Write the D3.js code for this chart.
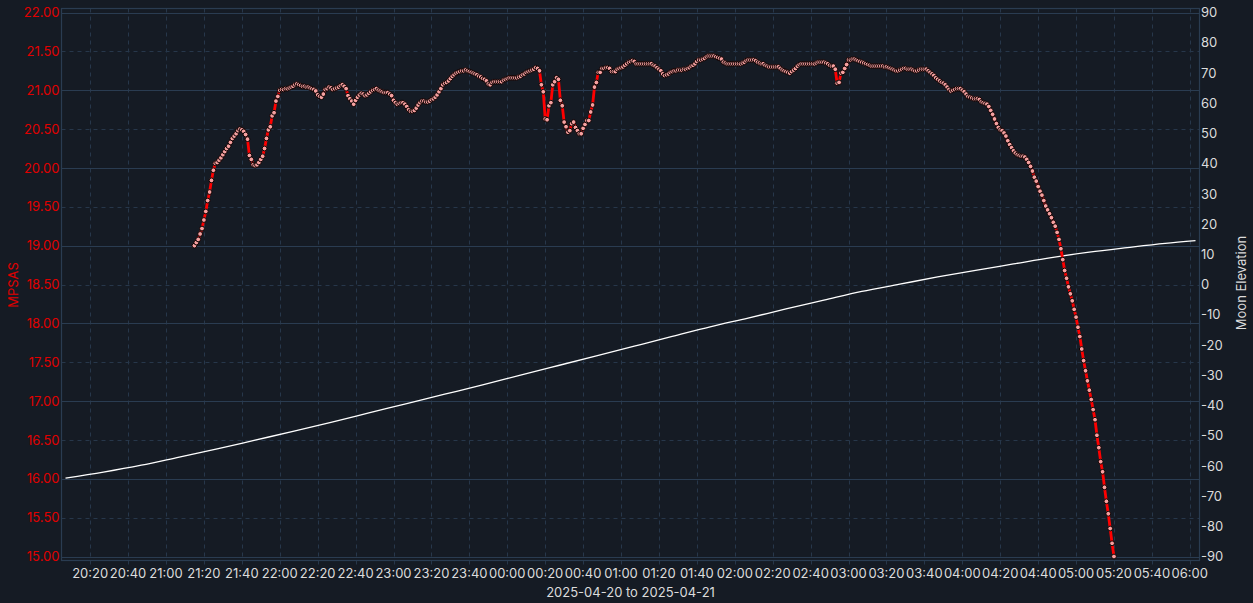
<!DOCTYPE html>
<html><head><meta charset="utf-8">
<script src="https://cdn.jsdelivr.net/npm/d3@7"></script>
<style>
html,body{margin:0;padding:0;background:#151b24;}
svg{display:block;}
text{font-family:Inter, "Noto Sans", sans-serif;}
</style></head><body>
<svg id="c" width="1253" height="603"></svg>
<script>
// ---- data ----
const seriesStart = "21:15";           // first MPSAS sample (2025-04-20), one sample per minute
const mpsas2100 = [19.00,19.04,19.08,19.15,19.22,19.33,19.44,19.58,19.69,19.84,
  19.97,20.06,20.07,20.10,20.13,20.17,20.21,20.25,20.28,20.33,
  20.38,20.41,20.44,20.48,20.50,20.49,20.47,20.43,20.37,20.16,
  20.11,20.04,20.03,20.04,20.07,20.11,20.15,20.25,20.38,20.49,
  20.53,20.67,20.71,20.86,20.92];
const mpsas2200 = [21.00,21.01,21.01,21.02,21.02,21.03,21.04,21.05,21.07,21.08,
  21.07,21.06,21.05,21.05,21.04,21.04,21.03,21.02,21.01,20.99,
  20.94,20.92,20.91,20.95,21.01,21.02,21.04,21.03,21.01,21.02,
  21.03,21.04,21.06,21.07,21.05,21.02,20.93,20.89,20.86,20.82,
  20.87,20.91,20.94,20.96,20.95,20.93,20.94,20.96,20.98,21.00,
  21.01,21.02,21.00,20.99,20.98,20.97,20.97,20.97,20.95,20.93];
const mpsas2300 = [20.87,20.84,20.82,20.83,20.84,20.84,20.82,20.79,20.75,20.73,
  20.73,20.74,20.77,20.81,20.84,20.86,20.86,20.85,20.85,20.86,
  20.88,20.89,20.91,20.94,20.98,21.02,21.07,21.09,21.10,21.12,
  21.15,21.18,21.20,21.22,21.23,21.24,21.25,21.25,21.26,21.25,
  21.24,21.23,21.22,21.21,21.20,21.18,21.17,21.15,21.14,21.12,
  21.08,21.07,21.10,21.11,21.11,21.11,21.11,21.11,21.13,21.14];
const mpsas0000 = [21.15,21.16,21.16,21.16,21.16,21.16,21.17,21.18,21.20,21.21,
  21.23,21.24,21.25,21.26,21.27,21.29,21.28,21.25,21.07,20.98,
  20.63,20.62,20.80,20.84,21.07,21.11,21.16,21.14,20.87,20.80,
  20.59,20.53,20.46,20.48,20.57,20.59,20.52,20.48,20.44,20.44,
  20.51,20.56,20.61,20.61,20.72,20.81,21.04,21.10,21.23,21.23,
  21.28,21.28,21.29,21.29,21.28,21.24,21.24,21.24,21.27,21.28];
const mpsas0100 = [21.29,21.30,21.32,21.34,21.36,21.37,21.38,21.37,21.34,21.34,
  21.34,21.34,21.34,21.34,21.34,21.34,21.34,21.32,21.31,21.29,
  21.27,21.25,21.21,21.19,21.20,21.21,21.23,21.24,21.25,21.25,
  21.26,21.26,21.26,21.27,21.27,21.28,21.29,21.31,21.32,21.34,
  21.37,21.39,21.39,21.40,21.41,21.43,21.44,21.44,21.44,21.44,
  21.43,21.42,21.41,21.40,21.36,21.35,21.34,21.34,21.34,21.34];
const mpsas0200 = [21.34,21.34,21.34,21.34,21.35,21.36,21.38,21.39,21.39,21.39,
  21.39,21.38,21.36,21.35,21.34,21.34,21.32,21.31,21.30,21.30,
  21.30,21.30,21.30,21.30,21.28,21.26,21.25,21.24,21.23,21.22,
  21.24,21.26,21.28,21.31,21.33,21.34,21.34,21.34,21.34,21.34,
  21.34,21.34,21.34,21.35,21.36,21.36,21.36,21.36,21.35,21.34,
  21.32,21.31,21.31,21.27,21.09,21.10,21.22,21.23,21.28,21.33];
const mpsas0300 = [21.39,21.39,21.40,21.40,21.39,21.38,21.37,21.36,21.35,21.34,
  21.33,21.32,21.31,21.31,21.31,21.31,21.31,21.31,21.31,21.30,
  21.30,21.29,21.28,21.27,21.26,21.25,21.25,21.26,21.27,21.28,
  21.28,21.27,21.27,21.27,21.26,21.25,21.25,21.26,21.27,21.27,
  21.27,21.27,21.25,21.23,21.21,21.19,21.16,21.14,21.12,21.10,
  21.09,21.07,21.04,21.01,20.99,21.00,21.01,21.02,21.02,21.02];
const mpsas0400 = [21.00,20.98,20.95,20.92,20.91,20.90,20.89,20.89,20.89,20.88,
  20.85,20.84,20.83,20.82,20.79,20.74,20.69,20.63,20.57,20.52,
  20.49,20.48,20.45,20.41,20.35,20.30,20.26,20.22,20.19,20.17,
  20.16,20.15,20.15,20.14,20.11,20.07,20.02,19.96,19.88,19.83,
  19.76,19.70,19.65,19.58,19.51,19.46,19.41,19.36,19.30,19.25,
  19.17,19.08,18.96,18.82,18.68,18.58,18.47,18.38,18.29,18.18];
const mpsas0500 = [18.08,17.95,17.83,17.67,17.52,17.39,17.26,17.14,17.02,16.89,
  16.76,16.56,16.40,16.22,16.09,15.89,15.71,15.55,15.36,15.17,
  15.00];

const moonTimes = ["20:07","20:27","20:47","21:07","21:27","21:47","22:07","22:27","22:47","23:07",
  "23:27","23:47","00:07","00:27","00:47","01:07","01:27","01:47","02:07","02:27",
  "02:47","03:07","03:27","03:47","04:07","04:27","04:47","05:07","05:27","05:47","06:03"];
const moonElevation = [-64.1,-62.1,-59.8,-57.1,-54.4,-51.5,-48.6,-45.6,-42.5,-39.4,
  -36.3,-33.2,-30.0,-26.8,-23.6,-20.4,-17.2,-14.0,-11.1,-8.1,
  -5.2,-2.3,0.1,2.5,4.7,6.8,8.9,10.7,12.2,13.6,14.5];

const xDomainLabels = ["20:07","06:03"];
const xTickLabels = ["20:20","20:40","21:00","21:20","21:40","22:00","22:20","22:40","23:00","23:20",
  "23:40","00:00","00:20","00:40","01:00","01:20","01:40","02:00","02:20","02:40",
  "03:00","03:20","03:40","04:00","04:20","04:40","05:00","05:20","05:40","06:00"];
const leftTicks = ["15.00","15.50","16.00","16.50","17.00","17.50","18.00","18.50","19.00","19.50",
  "20.00","20.50","21.00","21.50","22.00"];
const rightTicks = ["-90","-80","-70","-60","-50","-40","-30","-20","-10","0","10","20","30","40","50","60","70","80","90"];
const xTitle = "2025-04-20 to 2025-04-21";
const leftTitle = "MPSAS";
const rightTitle = "Moon Elevation";

// ---- helpers ----
function toDate(hhmm){
  const [h,m] = hhmm.split(":").map(Number);
  return new Date(2025, 3, h < 12 ? 21 : 20, h, m);
}
const start = toDate(seriesStart);
const allMpsas = [].concat(mpsas2100,mpsas2200,mpsas2300,mpsas0000,mpsas0100,mpsas0200,mpsas0300,mpsas0400,mpsas0500);
const mpsasData = allMpsas.map((v,i)=>({t:new Date(start.getTime()+i*60000), v}));
const moonData = moonTimes.map((s,i)=>({t:toDate(s), v:moonElevation[i]}));

// ---- layout ----
const frame = {l:61.5, t:8.5, r:1199.5, b:560.5};
const pad = 4;
const svg = d3.select("#c");
const x = d3.scaleTime().domain(xDomainLabels.map(toDate)).range([frame.l+pad, frame.r-pad]);
const yL = d3.scaleLinear().domain([15,22]).range([frame.b-pad, frame.t+pad]);
const yR = d3.scaleLinear().domain([-90,90]).range([frame.b-pad, frame.t+pad]);

const gridCol = "#27374a";
svg.append("rect").attr("width",1253).attr("height",603).attr("fill","#151b24");

// vertical grid
svg.append("g").selectAll("line").data(xTickLabels).join("line")
  .attr("x1",d=>Math.round(x(toDate(d)))+0.5).attr("x2",d=>Math.round(x(toDate(d)))+0.5)
  .attr("y1",frame.t).attr("y2",frame.b+6)
  .attr("stroke",gridCol).attr("stroke-width",1).attr("stroke-dasharray","4,4");

// horizontal grid
svg.append("g").selectAll("line").data(leftTicks).join("line")
  .attr("x1",frame.l).attr("x2",frame.r)
  .attr("y1",d=>Math.round(yL(+d))+0.5).attr("y2",d=>Math.round(yL(+d))+0.5)
  .attr("stroke",d=>Number.isInteger(+d)?"#2a3c51":gridCol)
  .attr("stroke-width",1.2)
  .attr("stroke-dasharray",d=>Number.isInteger(+d)?null:"4,4");

// frame
svg.append("rect").attr("x",frame.l).attr("y",frame.t)
  .attr("width",frame.r-frame.l).attr("height",frame.b-frame.t)
  .attr("fill","none").attr("stroke","#2a3c51").attr("stroke-width",1.2);

// tick labels
svg.append("g").selectAll("text").data(leftTicks).join("text")
  .attr("x",frame.l-2).attr("y",d=>yL(+d)).attr("dy","0.36em")
  .attr("text-anchor","end").attr("fill","#e00000").attr("font-size",13).text(d=>d);
svg.append("g").selectAll("text").data(rightTicks).join("text")
  .attr("x",frame.r+1.5).attr("y",d=>yR(+d)).attr("dy","0.36em")
  .attr("text-anchor","start").attr("fill","#dcdcdc").attr("font-size",13).text(d=>d);
svg.append("g").selectAll("text").data(xTickLabels).join("text")
  .attr("x",d=>x(toDate(d))).attr("y",578)
  .attr("text-anchor","middle").attr("fill","#dcdcdc").attr("font-size",13).text(d=>d);

// titles
svg.append("text").attr("x",(frame.l+frame.r)/2).attr("y",597).attr("text-anchor","middle")
  .attr("fill","#dcdcdc").attr("font-size",13).text(xTitle);
svg.append("text").attr("transform","translate(18,285) rotate(-90)").attr("text-anchor","middle")
  .attr("fill","#e00000").attr("font-size",13).text(leftTitle);
svg.append("text").attr("transform","translate(1246,283) rotate(-90)").attr("text-anchor","middle")
  .attr("fill","#dcdcdc").attr("font-size",13).text(rightTitle);

// moon line
svg.append("path").datum(moonData)
  .attr("d", d3.line().x(d=>x(d.t)).y(d=>yR(d.v)).curve(d3.curveMonotoneX))
  .attr("fill","none").attr("stroke","#ffffff").attr("stroke-width",1.3);

// MPSAS line + markers
svg.append("path").datum(mpsasData)
  .attr("d", d3.line().x(d=>x(d.t)).y(d=>yL(d.v)))
  .attr("fill","none").attr("stroke","#ff0000").attr("stroke-width",2.8).attr("stroke-linejoin","round");
svg.append("g").selectAll("circle").data(mpsasData).join("circle")
  .attr("cx",d=>x(d.t)).attr("cy",d=>yL(d.v)).attr("r",2.4)
  .attr("fill","#f6a0a0").attr("stroke","#120404").attr("stroke-width",1);
</script>
</body></html>
